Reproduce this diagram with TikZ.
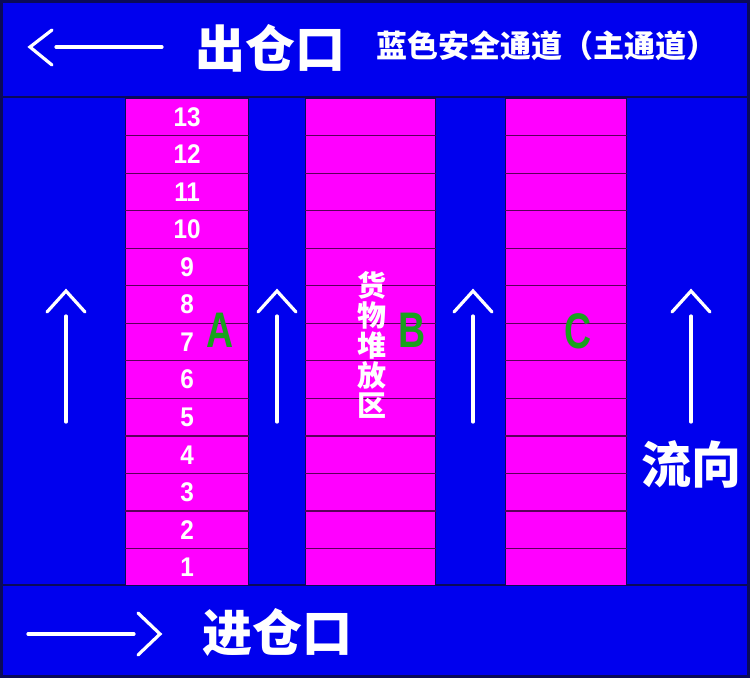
\documentclass[tikz,border=0pt]{standalone}
\usepackage{fontspec}
\usetikzlibrary{calc}
\setmainfont{Liberation Sans}
\newfontfamily\cjk{Noto Sans CJK SC}
\definecolor{bluebg}{RGB}{0,0,238}
\definecolor{magbox}{RGB}{255,0,255}
\definecolor{rowline}{RGB}{90,0,90}
\definecolor{darkedge}{RGB}{10,10,90}
\definecolor{lettergreen}{RGB}{25,160,30}
\tikzset{
  colbox/.style={fill=magbox, draw=darkedge, line width=1.2pt, inner sep=0pt, anchor=north west},
  rowsep/.style={draw=rowline, line width=1.2pt},
  whitearrow/.style={draw=white, line width=3.2pt, line cap=round, line join=miter},
  bigcjk/.style={text=white, font=\cjk\bfseries\fontsize{50}{50}\selectfont, inner sep=0pt},
  midcjk/.style={text=white, font=\cjk\bfseries\fontsize{31}{31}\selectfont, inner sep=0pt},
  numlabel/.style={text=white, font=\bfseries\fontsize{27}{27}\selectfont, inner sep=0pt, xscale=0.9},
  zonelabel/.style={text=lettergreen, font=\bfseries\fontsize{50}{50}\selectfont, inner sep=0pt, xscale=0.75},
}
\begin{document}
\begin{tikzpicture}[x=1pt,y=-1pt]
\useasboundingbox (0,0) rectangle (750,678);
\fill[bluebg] (0,0) rectangle (750,678);
% band separators
\draw[darkedge, line width=2pt] (0,97) -- (750,97);
\draw[darkedge, line width=2pt] (0,585) -- (750,585);
% storage columns
\node[colbox, minimum width=123pt, minimum height=487pt] (colA) at (125,98) {};
\node[colbox, minimum width=130pt, minimum height=487pt] (colB) at (305,98) {};
\node[colbox, minimum width=121pt, minimum height=487pt] (colC) at (505,98) {};
\foreach \c in {colA,colB,colC}{
  \foreach \k in {1,...,12}{
    \draw[rowsep] ($(\c.north west)!{\k/13}!(\c.south west)$) -- ($(\c.north east)!{\k/13}!(\c.south east)$);
  }
}
% numbers in column A
\foreach \k in {1,...,13}{
  \node[numlabel] (n\k) at ($(colA.south)!{(\k-0.5)/13}!(colA.north)$) {\k};
}
% zone letters
\node[zonelabel] (lA) at (220,330) {A};
\node[zonelabel] (lB) at (412,330) {B};
\node[zonelabel] (lC) at (578,331) {C};
% vertical text
\node[text=white, font=\cjk\bfseries\fontsize{29}{30}\selectfont, align=center, inner sep=0pt] (zone) at (372,345) {货\\物\\堆\\放\\区};
% header texts
\node[bigcjk] (out) at (270,48) {出仓口};
\node[midcjk] (mainlane) at (547,46) {蓝色安全通道（主通道）};
\node[bigcjk] (in) at (277,632) {进仓口};
\node[bigcjk] (flow) at (691,464) {流向};
% top-left arrow (out)
\coordinate (otip) at (30,47);
\draw[whitearrow] (52,30) -- (otip) -- (52,65);
\draw[whitearrow] (56,47) -- (162,47);
% bottom arrow (in)
\coordinate (itip) at (160,634);
\draw[whitearrow] (138,613) -- (itip) -- (138,655);
\draw[whitearrow] (28,634) -- (134,634);
% flow arrows
\foreach \x/\nm in {66/fa,277/fb,473/fc,691/fd}{
  \coordinate (\nm tip) at (\x,291);
  \draw[whitearrow] (\x-19,312) -- (\nm tip) -- (\x+19,312);
  \draw[whitearrow] (\x,316) -- (\x,422);
}
% outer frame
\draw[darkedge, line width=3pt] (1.5,1.5) rectangle (748.5,676.5);
\end{tikzpicture}
\end{document}
